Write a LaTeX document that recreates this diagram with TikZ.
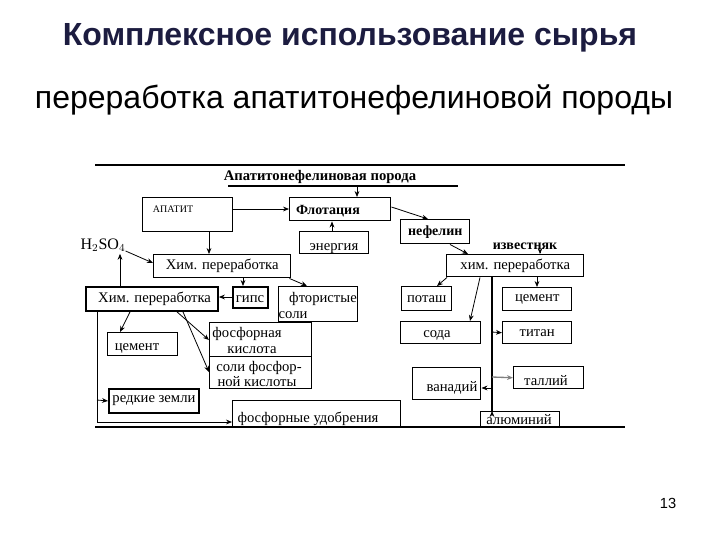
\documentclass[tikz,border=0pt]{standalone}
\usepackage{fontspec}
\setmainfont{Liberation Serif}
\newfontfamily\hdfont{Liberation Sans}
\usetikzlibrary{arrows.meta,calc}
\definecolor{ttl}{RGB}{28,28,64}
\begin{document}
\begin{tikzpicture}[x=0.75pt,y=-0.75pt,
  bx/.style={draw, inner sep=0pt, anchor=north west, line width=1.1pt, font=\fontsize{11}{12}\selectfont},
  thinbx/.style={bx, line width=0.6pt},
  lbl/.style={inner sep=0pt, font=\fontsize{11}{12}\selectfont},
  arr/.style={-{Stealth[length=4.5pt,width=3.6pt]}, line width=0.6pt},
  frame/.style={line width=2.2pt}]
\useasboundingbox (0,0) rectangle (720,540);

% titles
\node[inner sep=0pt, text=ttl, font=\hdfont\bfseries\fontsize{24}{28}\selectfont] (title) at (350,38) {Комплексное использование сырья};
\node[inner sep=0pt, font=\hdfont\fontsize{24}{28}\selectfont] (sub) at (354,100) {переработка апатитонефелиновой породы};
\node[inner sep=0pt, font=\hdfont\fontsize{11}{13}\selectfont] (pg) at (668,503) {13};

% frame lines
\coordinate (ftl) at (95,165); \coordinate (ftr) at (625,165);
\coordinate (fbl) at (95,427); \coordinate (fbr) at (625,427);

% heading
\node[lbl, font=\bfseries\fontsize{11}{12}\selectfont] (ap) at (320,177) {Апатитонефелиновая порода};
\coordinate (ul1) at (228,186); \coordinate (ul2) at (458,186);
\draw[line width=1.1pt] (ul1) -- (ul2);

% boxes, upper part
\node[bx, minimum width=90*0.75pt, minimum height=34*0.75pt] (apatit) at (142,197) {};
\node[lbl, font=\fontsize{7.5}{8}\selectfont] (apatitT) at (173,209) {АПАТИТ};
\node[bx, minimum width=101*0.75pt, minimum height=23*0.75pt] (flot) at (289,197) {};
\node[lbl, font=\bfseries\fontsize{10.5}{12}\selectfont] (flotT) at (328,211) {Флотация};
\node[bx, minimum width=69*0.75pt, minimum height=22*0.75pt] (energ) at (299,231) {};
\node[lbl] (energT) at (334,249) {энергия};
\node[bx, minimum width=69*0.75pt, minimum height=24*0.75pt, font=\bfseries\fontsize{10.5}{12}\selectfont] (nefel) at (400,219) {нефелин};
\node[lbl, font=\bfseries\fontsize{10.5}{12}\selectfont] (izv) at (525,246) {известняк};

% right part
\node[bx, minimum width=137*0.75pt, minimum height=22*0.75pt] (xim2) at (446,254) {хим. переработка};
\node[bx, minimum width=50*0.75pt, minimum height=24*0.75pt] (potash) at (401,286) {поташ};
\node[bx, minimum width=69*0.75pt, minimum height=23*0.75pt] (cemR) at (502,287) {цемент};
\node[thinbx, minimum width=80*0.75pt, minimum height=22*0.75pt] (soda) at (400,321) {};
\node[lbl] (sodaT) at (437,335) {сода};
\node[bx, minimum width=69*0.75pt, minimum height=22*0.75pt] (titan) at (502,321) {титан};
\node[bx, minimum width=68*0.75pt, minimum height=32*0.75pt] (vanad) at (412,367) {};
\node[lbl] (vanadT) at (452,388) {ванадий};
\node[bx, minimum width=70*0.75pt, minimum height=22*0.75pt] (tall) at (513,366) {};
\node[lbl] (tallT) at (546,381) {таллий};
\node[bx, minimum width=79*0.75pt, minimum height=16*0.75pt] (alum) at (480,411) {};
\node[lbl] (alumT) at (519,420) {алюминий};

% left part
\node[lbl, font=\fontsize{12}{13}\selectfont] (h2so4) at (103,245) {H$_2$SO$_4$};
\node[bx, minimum width=137*0.75pt, minimum height=23*0.75pt] (xim1) at (153,254) {Хим. переработка};
\node[bx, minimum width=132*0.75pt, minimum height=24*0.75pt, line width=1.4pt] (ximL) at (85,286) {\hspace*{4pt}Хим. переработка};
\node[bx, minimum width=35*0.75pt, minimum height=21*0.75pt, line width=1.4pt] (gips) at (232,286) {};
\node[lbl] (gipsT) at (250,299) {гипс};
\node[bx, minimum width=79*0.75pt, minimum height=35*0.75pt] (ftor) at (278,286) {};
\node[lbl] (ftorT1) at (323,299) {фтористые};
\node[lbl] (ftorT2) at (293,315) {соли};
\node[thinbx, minimum width=102*0.75pt, minimum height=34*0.75pt] (fosk) at (209,322) {};
\node[lbl] (foskT1) at (247,334) {фосфорная};
\node[lbl] (foskT2) at (252,350) {кислота};
\node[thinbx, minimum width=102*0.75pt, minimum height=32*0.75pt] (solif) at (209,356) {};
\node[lbl] (solifT1) at (259,368) {соли фосфор-};
\node[lbl] (solifT2) at (257,382) {ной кислоты};
\node[bx, minimum width=70*0.75pt, minimum height=23*0.75pt] (cemL) at (107,332) {};
\node[lbl] (cemLT) at (137,348) {цемент};
\node[bx, minimum width=90*0.75pt, minimum height=24*0.75pt, line width=1.4pt] (redk) at (108,388) {редкие земли};
\node[thinbx, minimum width=168*0.75pt, minimum height=27*0.75pt] (fosu) at (232,400) {};
\node[lbl] (fosuT) at (308,419) {фосфорные удобрения};

% frame lines drawn over
\draw[frame] (ftl) -- (ftr);
\draw[frame] (fbl) -- (fbr);

% connectors upper
\draw[arr] (357,186) -- (flot.north -| 357,0);
\draw[arr] ($(apatit.north east)+(0,12)$) -- ($(flot.north west)+(0,12)$);
\draw[arr] ($(apatit.south west)+(67,0)$) -- ($(xim1.north west)+(56,0)$);
\draw[arr] ($(energ.north west)+(33,0)$) -- ($(flot.south west)+(43,0)$);
\draw[arr] ($(flot.north east)+(0,10)$) -- ($(nefel.north west)+(28,0)$);
\draw[arr] ($(nefel.south west)+(50,0)$) -- ($(xim2.north west)+(22,0)$);
\draw[arr] ($(izv.south)+(15,3)$) -- ($(xim2.north west)+(94,0)$);

% connectors right
\coordinate (vtop) at ($(xim2.south west)+(46,0)$);
\draw[arr] ($(xim2.south west)+(1,0)$) -- ($(potash.north west)+(36,0)$);
\draw[arr] ($(xim2.south west)+(91,0)$) -- ($(cemR.north west)+(35,0)$);
\draw[arr] ($(xim2.south west)+(34,0)$) -- ($(soda.north west)+(70,0)$);
\draw[line width=1pt] (vtop) -- (492,411);
\draw[arr] (492,411) -- ($(alum.north west)+(12,0)$);
\draw[arr] (492,332) -- (titan.west);
\draw[arr, gray, line width=1pt] (492,377) -- (tall.west);
\draw[arr] (492,388) -- (vanad.east |- 0,388);

% connectors left
\draw[arr] ($(h2so4.east)+(0,6)$) -- ($(xim1.north west)+(0,9)$);
\draw[arr] ($(ximL.north west)+(35,0)$) -- ($(h2so4.south)+(17,2)$);
\draw[arr] ($(xim1.south west)+(90,0)$) -- ($(gips.north west)+(11,0)$);
\draw[arr] ($(gips.north west)+(0,11)$) -- ($(ximL.north east)+(0,11)$);
\draw[arr] ($(xim1.south east)+(-2,0)$) -- ($(ftor.north west)+(29,0)$);
\draw[arr] ($(ximL.south west)+(92,0)$) -- ($(fosk.north west)+(0,18)$);
\draw[arr] ($(ximL.south west)+(98,0)$) -- ($(solif.north west)+(0,16)$);
\draw[arr] ($(ximL.south west)+(45,0)$) -- ($(cemL.north west)+(13,0)$);
\coordinate (lv1) at (97,310);
\coordinate (lv2) at (97,422);
\draw[line width=0.6pt] (lv1) -- (lv2);
\draw[arr] (lv2) -- (fosu.west |- lv2);
\draw[arr] (97,400) -- (redk.west);
\end{tikzpicture}
\end{document}
